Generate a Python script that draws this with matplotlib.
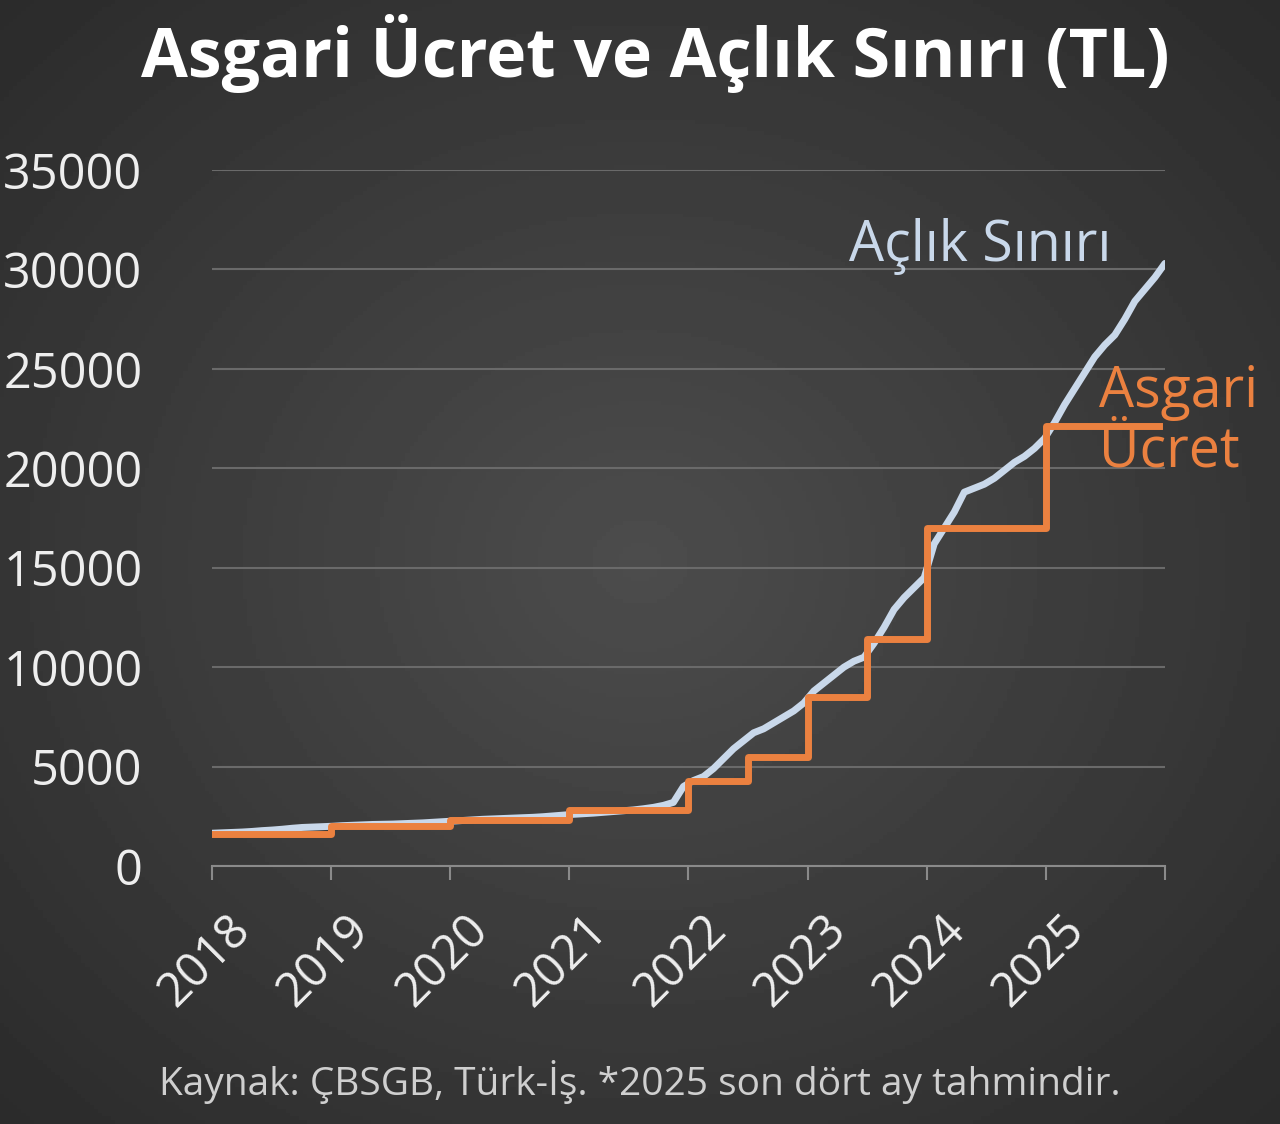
import matplotlib.pyplot as plt
import numpy as np

years = ['2018', '2019', '2020', '2021', '2022', '2023', '2024', '2025']

# Asgari ücret (net), changes at year starts / mid-year
asgari_dates = [2018.0, 2019.0, 2020.0, 2021.0, 2022.0, 2022.5, 2023.0, 2023.5, 2024.0, 2025.0, 2025.95]
asgari_vals = [1603, 2020, 2324, 2826, 4253, 5500, 8507, 11402, 17002, 22104, 22104]

# Açlık sınırı, monthly estimates (Jan 2018 .. Dec 2025)
aclik_vals = [
    1650, 1670, 1690, 1710, 1740, 1780, 1810, 1850, 1900, 1940, 1960, 1980,
    2000, 2030, 2050, 2070, 2090, 2100, 2110, 2130, 2150, 2170, 2200, 2230,
    2260, 2290, 2320, 2350, 2370, 2390, 2410, 2430, 2450, 2480, 2520, 2560,
    2600, 2630, 2660, 2700, 2740, 2780, 2820, 2880, 2950, 3050, 3200, 4000,
    4300, 4500, 4900, 5400, 5900, 6300, 6700, 6900, 7200, 7500, 7800, 8200,
    8800, 9200, 9600, 10000, 10300, 10500, 11200, 12000, 12900, 13500, 14000, 14500,
    16200, 17000, 17800, 18800, 19000, 19200, 19500, 19900, 20300, 20600, 21000, 21500,
    22300, 23200, 24000, 24800, 25600, 26200, 26700, 27500, 28400, 29000, 29600, 30300,
]
aclik_dates = 2018 + np.arange(len(aclik_vals)) / 12 * (96 / 95)

fig = plt.figure(figsize=(12.8, 11.24), dpi=100)

# radial dark background
bg = fig.add_axes([0, 0, 1, 1], zorder=-10)
yy, xx = np.mgrid[-1:1:300j, -1:1:300j]
r = np.sqrt(xx**2 + yy**2)
bg.imshow(0.30 - 0.13 * np.clip(r, 0, 1.4) / 1.4, cmap='gray', vmin=0, vmax=1, aspect='auto', extent=[0, 1, 0, 1])
bg.axis('off')

ax = fig.add_axes([0.1656, 0.2295, 0.7445, 0.6193])
ax.patch.set_alpha(0)
ax.plot(aclik_dates, aclik_vals, color='#c9d8ea', lw=5, solid_capstyle='round')
ax.step(asgari_dates, asgari_vals, where='post', color='#eb8140', lw=5)

ax.set_xlim(2018, 2026)
ax.set_ylim(0, 35000)
ax.set_yticks(range(0, 35001, 5000))
ax.set_yticklabels([str(v) for v in range(0, 35001, 5000)], fontsize=35, color='#eeeeee', family='Open Sans')
ax.set_xticks(range(2018, 2027))
ax.set_xticklabels([])
for i, y in enumerate(years):
    ax.text(2018 + i + 0.12, -2000, y, rotation=45, ha='right', va='top', fontsize=34,
            color='#eeeeee', family='Open Sans', rotation_mode='anchor')
ax.grid(axis='y', color='#6a6a6a', lw=1.5)
ax.tick_params(axis='x', length=10, color='#8a8a8a', width=1.5)
ax.tick_params(axis='y', length=0, pad=50)
for s in ['top', 'right', 'left']:
    ax.spines[s].set_visible(False)
ax.spines['bottom'].set_color('#8a8a8a')
ax.spines['bottom'].set_linewidth(1.5)

ax.text(2025.55, 29700, 'Açlık Sınırı', color='#c9d8ea', fontsize=40, ha='right', va='bottom', family='Open Sans')
ax.text(2025.45, 22300, 'Asgari\nÜcret', color='#eb8140', fontsize=40, ha='left', va='center',
        family='Open Sans', linespacing=1.05)

fig.text(0.512, 0.952, 'Asgari Ücret ve Açlık Sınırı (TL)', color='white', fontsize=49,
         fontweight='bold', ha='center', va='center', family='Open Sans')
fig.text(0.5, 0.037, 'Kaynak: ÇBSGB, Türk-İş. *2025 son dört ay tahmindir.', color='#cfcfcf',
         fontsize=28, ha='center', va='center', family='Open Sans')

fig.savefig('out.png', dpi=100)
